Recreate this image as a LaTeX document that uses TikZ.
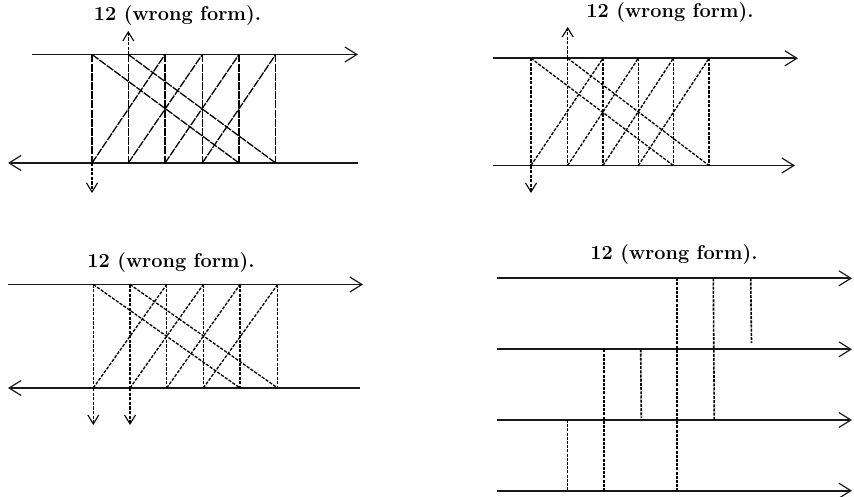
\documentclass[tikz,border=0pt]{standalone}
\usetikzlibrary{arrows.meta}
\begin{document}
\begin{tikzpicture}[x=1bp,y=-1bp,
  hline/.style={line width=1.8bp,black!90},
  harrow/.style={hline,-{Straight Barb[length=12bp,width=15bp,line width=1.2bp]}},
  varrow/.style={-{Straight Barb[length=9bp,width=11bp,line width=1.1bp]}},
  vd/.style={line width=1.3bp,dash pattern=on 3.2bp off 1.4bp},
  vdone/.style={line width=1.3bp,dash pattern=on 8bp off 1.2bp},
  vdfour/.style={line width=1.6bp,dash pattern=on 3bp off 1.2bp},
  title/.style={font=\fontsize{20}{24}\selectfont\bfseries}]
\useasboundingbox (0,0) rectangle (854,497);

% ---------- titles ----------
\node[title] (t1) at (177.5,16) {12 (wrong form).};
\node[title] (t2) at (670,13) {12 (wrong form).};
\node[title] (t3) at (171,263) {12 (wrong form).};
\node[title] (t4) at (674,255) {12 (wrong form).};

% ---------- panel 1 ----------
\foreach \x [count=\i] in {92,128.3,165,202.3,239,275.7} {
  \coordinate (pa\i) at (\x,54.5);
  \coordinate (pb\i) at (\x,163);
}
\coordinate (pal) at (32,54.5);  \coordinate (par) at (358,54.5);
\coordinate (pbl) at (8,163);    \coordinate (pbr) at (358,163);
\coordinate (pup) at (128.3,31); \coordinate (pdn) at (92,193);
\draw[harrow] (pal) -- (par);
\draw[harrow] (pbr) -- (pbl);
\foreach \i in {1,...,6} {\draw[vdone] (pa\i) -- (pb\i);}
\draw[vdone] (pa1) -- (pb5);
\draw[vdone] (pa2) -- (pb6);
\draw[vdone] (pb1) -- (pa3);
\draw[vdone] (pb2) -- (pa4);
\draw[vdone] (pb3) -- (pa5);
\draw[vdone] (pb4) -- (pa6);
\draw[vd,varrow] (pa2) -- (pup);
\draw[vd,varrow] (pb1) -- (pdn);

% ---------- panel 2 ----------
\foreach \x [count=\i] in {531,567.7,603,638.3,673.3,709} {
  \coordinate (qa\i) at (\x,58.3);
  \coordinate (qb\i) at (\x,165.5);
}
\coordinate (qal) at (493,58.3);  \coordinate (qar) at (798,58.3);
\coordinate (qbl) at (493,165.5); \coordinate (qbr) at (795,165.5);
\coordinate (qup) at (567.7,27);  \coordinate (qdn) at (531,193);
\draw[harrow] (qal) -- (qar);
\draw[harrow] (qbl) -- (qbr);
\foreach \i in {1,...,6} {\draw[vd] (qa\i) -- (qb\i);}
\draw[vd] (qa1) -- (qb5);
\draw[vd] (qa2) -- (qb6);
\draw[vd] (qb1) -- (qa3);
\draw[vd] (qb2) -- (qa4);
\draw[vd] (qb3) -- (qa5);
\draw[vd] (qb4) -- (qa6);
\draw[vd,varrow] (qa2) -- (qup);
\draw[vd,varrow] (qb1) -- (qdn);

% ---------- panel 3 ----------
\foreach \x [count=\i] in {93.3,130,166.7,203.3,240,277.7} {
  \coordinate (ra\i) at (\x,284.5);
  \coordinate (rb\i) at (\x,388);
}
\coordinate (ral) at (8,284.5);  \coordinate (rar) at (363,284.5);
\coordinate (rbl) at (8,388);    \coordinate (rbr) at (360,388);
\coordinate (rdn1) at (93.3,425); \coordinate (rdn2) at (130,425);
\draw[harrow] (ral) -- (rar);
\draw[harrow] (rbr) -- (rbl);
\foreach \i in {1,...,6} {\draw[vd] (ra\i) -- (rb\i);}
\draw[vd] (ra1) -- (rb5);
\draw[vd] (ra2) -- (rb6);
\draw[vd] (rb1) -- (ra3);
\draw[vd] (rb2) -- (ra4);
\draw[vd] (rb3) -- (ra5);
\draw[vd] (rb4) -- (ra6);
\draw[vd,varrow] (rb1) -- (rdn1);
\draw[vd,varrow] (rb2) -- (rdn2);

% ---------- panel 4 ----------
\foreach \y [count=\j] in {278.3,349.3,420,490.7} {
  \coordinate (sl\j) at (497,\y);
  \coordinate (sr\j) at (852,\y);
  \draw[harrow] (sl\j) -- (sr\j);
}
\coordinate (s1a) at (676.7,278.3); \coordinate (s1b) at (676.7,490.7);
\coordinate (s2a) at (713.3,278.3); \coordinate (s2b) at (714.3,420);
\coordinate (s3a) at (750.7,278.3); \coordinate (s3b) at (751.5,343);
\coordinate (s4a) at (604,349.3);   \coordinate (s4b) at (604,490.7);
\coordinate (s5a) at (640.7,349.3); \coordinate (s5b) at (641.3,418);
\coordinate (s6a) at (567.3,420);   \coordinate (s6b) at (567.3,490.7);
\draw[vdfour] (s1a) -- (s1b);
\draw[vdfour] (s2a) -- (s2b);
\draw[vdfour] (s3a) -- (s3b);
\draw[vdfour] (s4a) -- (s4b);
\draw[vdfour] (s5a) -- (s5b);
\draw[vdfour] (s6a) -- (s6b);
\end{tikzpicture}
\end{document}
